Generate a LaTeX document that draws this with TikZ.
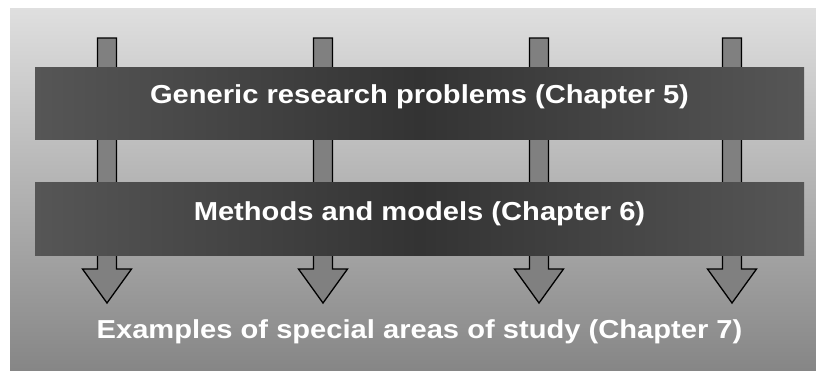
\documentclass[tikz,border=0pt]{standalone}
\usepackage{fontspec}
\setmainfont{Liberation Sans}[FakeStretch=1.12]
\usepackage{tikz}
\usepackage{xcolor}
\definecolor{bgtop}{HTML}{DFDFDF}
\definecolor{bgbottom}{HTML}{868686}
\definecolor{bandside}{HTML}{565656}
\definecolor{bandmid}{HTML}{333333}
\definecolor{shaftfill}{HTML}{808080}

\begin{document}
\begin{tikzpicture}[
  x=1pt, y=-1pt,
  band/.style={minimum width=769pt, minimum height=72pt, inner sep=0pt,
               left color=bandside, right color=bandside, middle color=bandmid,
               text height=9pt, text depth=9pt,
               text=white, font=\bfseries\fontsize{26}{30}\selectfont},
  title/.style={inner sep=0pt, anchor=base, text=white,
                font=\bfseries\fontsize{26}{30}\selectfont},
  flow/.style={draw=black, line width=1.3pt, fill=shaftfill, line join=miter},
]
  \useasboundingbox (0,0) rectangle (816,370);
  \shade[top color=bgtop, bottom color=bgbottom] (10,8) rectangle (816,370);

  % four arrows, drawn first so the bands cover them
  \foreach \x in {107,323,539,732} {
    \draw[flow] (\x-9.5,38) -- (\x-9.5,269) -- (\x-24.5,269) -- (\x,303)
      -- (\x+24.5,269) -- (\x+9.5,269) -- (\x+9.5,38) -- cycle;
  }

  \node[band] (problems) at (419.5,103) {Generic research problems (Chapter 5)};
  \node[band, minimum height=73pt, text height=10.5pt, text depth=7.5pt]
    (methods) at (419.5,218.5) {Methods and models (Chapter 6)};
  \node[title] (areas) at (419.5,338)
    {Examples of special areas of study (Chapter 7)};
\end{tikzpicture}
\end{document}
